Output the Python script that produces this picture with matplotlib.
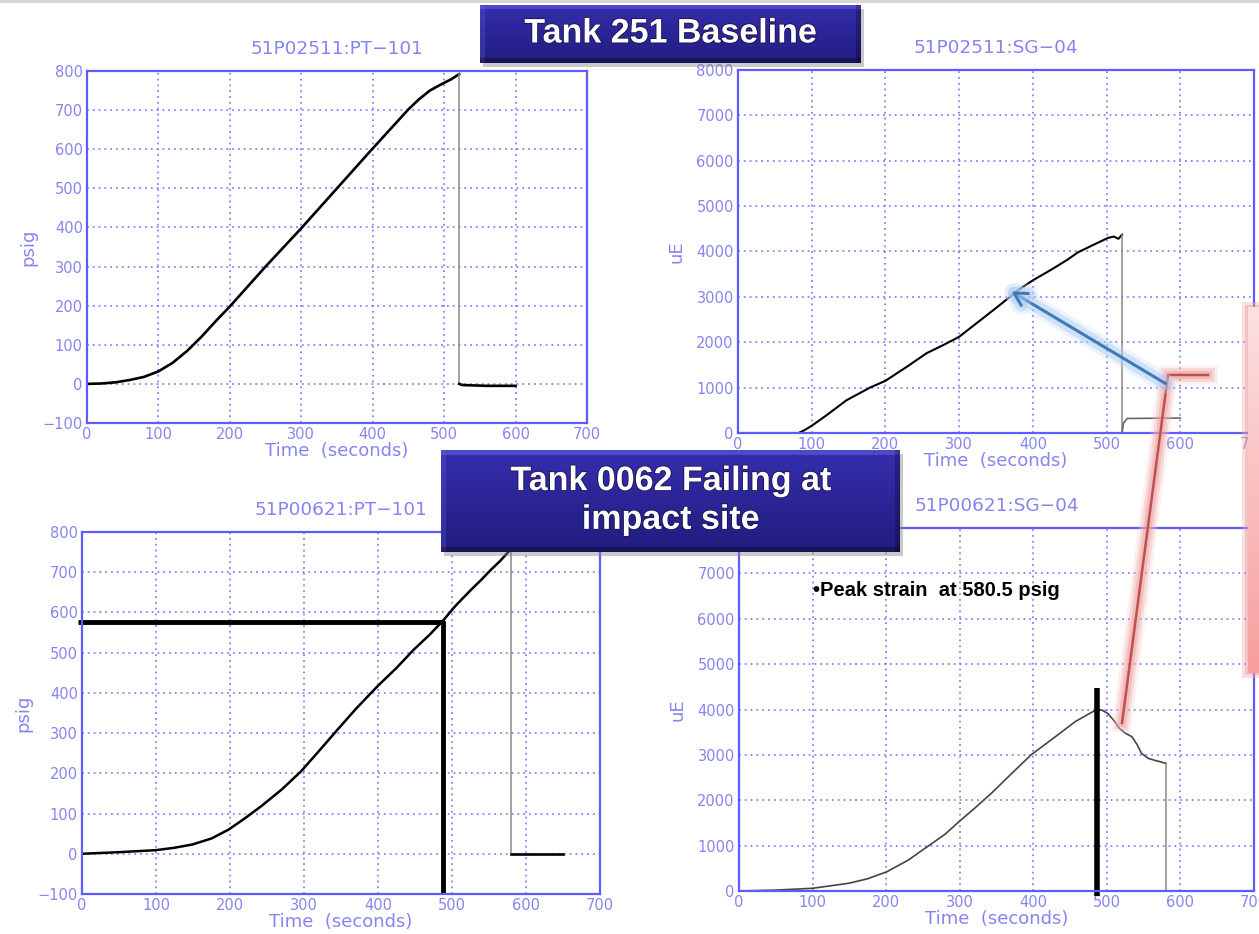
import matplotlib.pyplot as plt
import matplotlib.patheffects as pe
from matplotlib.lines import Line2D
from matplotlib.patches import Rectangle, FancyArrowPatch
import numpy as np

# ---- data ----
# Tank 251 baseline, pressure (psig) vs time (s)
base_pt_t = [0, 20, 40, 60, 80, 100, 120, 140, 160, 180, 200, 225, 250, 275, 300, 325,
             350, 375, 400, 425, 450, 465, 480, 495, 510, 521]
base_pt_p = [0, 1, 4, 10, 18, 32, 54, 84, 120, 160, 198, 249, 300, 349, 398, 449,
             500, 551, 602, 652, 702, 728, 750, 765, 779, 792]
base_pt_end_t = [521, 526, 560, 600]
base_pt_end_p = [0, -3, -5, -5]

# Tank 251 baseline, strain (uE)
base_sg_t = [0, 82, 90, 101, 120, 147, 179, 200, 230, 256, 280, 300, 330, 359, 380,
             401, 425, 447, 461, 480, 502, 510, 516, 521]
base_sg_u = [0, 0, 60, 170, 390, 720, 1000, 1150, 1470, 1760, 1950, 2120, 2500, 2870, 3150,
             3375, 3600, 3820, 3980, 4130, 4300, 4330, 4280, 4370]
base_sg_end_t = [521, 523, 528, 600]
base_sg_end_u = [0, 220, 320, 330]

# Tank 0062 failing, pressure
fail_pt_t = [0, 50, 100, 125, 149, 175, 198, 220, 242, 270, 296, 320, 345, 370, 399,
             425, 448, 470, 488, 505, 525, 540, 552, 565, 576, 580]
fail_pt_p = [0, 4, 9, 15, 23, 38, 60, 88, 118, 160, 205, 255, 308, 360, 416,
             462, 507, 545, 580, 617, 655, 682, 705, 728, 750, 760]
fail_pt_end_t = [580, 585, 650]
fail_pt_end_p = [0, 0, 0]

# Tank 0062 failing, strain
fail_sg_t = [0, 50, 100, 149, 175, 201, 230, 256, 280, 299, 320, 343, 370, 397, 430, 457,
             485, 493, 501, 510, 517, 525, 534, 541, 547, 556, 565, 572, 580]
fail_sg_u = [0, 20, 60, 170, 270, 425, 680, 977, 1250, 1528, 1820, 2153, 2580, 3000, 3400,
             3733, 3990, 3990, 3916, 3750, 3586, 3480, 3400, 3230, 3035, 2925, 2880, 2851, 2814]

peak_time = 488
peak_psig = 577
peak_strain_top = 4470

W, H = 1259, 934
fig = plt.figure(figsize=(W / 100, H / 100), dpi=100)
fig.patch.set_facecolor('white')

spine_c = '#5c5cff'
txt_c = '#8585f2'
grid_c = '#6f6fff'


def fx(x):
    return x / W


def fy(y):
    return 1 - y / H


def panel(l, t, r, b, title, ylabel, ymin, ymax, ystep, ylabelpad):
    ax = fig.add_axes([l / W, 1 - b / H, (r - l) / W, (b - t) / H])
    ax.set_xlim(0, 700)
    ax.set_ylim(ymin, ymax)
    ax.set_xticks(range(0, 701, 100))
    ax.set_yticks(range(ymin, ymax + 1, ystep))
    ax.grid(True, linestyle=(0, (1.2, 2.6)), color=grid_c, lw=1.1)
    for s in ax.spines.values():
        s.set_color(spine_c)
        s.set_linewidth(1.6)
    ax.tick_params(length=0, pad=3, labelsize=10.5, labelcolor=txt_c)
    ax.set_title(title, color=txt_c, fontsize=13.3, pad=12)
    ax.set_xlabel('Time  (seconds)', color=txt_c, fontsize=13, labelpad=0)
    ax.set_ylabel(ylabel, color=txt_c, fontsize=13, labelpad=ylabelpad)
    return ax


ax1 = panel(87, 71, 587, 423, '51P02511:PT\u2212101', 'psig', -100, 800, 100, 4)
ax1.plot(base_pt_t, base_pt_p, color='black', lw=1.9)
ax1.plot([base_pt_t[-1]] * 2, [base_pt_p[-1], 0], color='#888888', lw=1.1)
ax1.plot(base_pt_end_t, base_pt_end_p, color='black', lw=1.9)

ax2 = panel(738, 70, 1254, 433, '51P02511:SG\u221204', 'uE', 0, 8000, 1000, 8)
ax2.plot(base_sg_t, base_sg_u, color='black', lw=1.5)
ax2.plot([base_sg_t[-1]] * 2, [base_sg_u[-1], 0], color='#888888', lw=1.1)
ax2.plot(base_sg_end_t, base_sg_end_u, color='#666666', lw=1.2)

ax3 = panel(82, 532, 600, 894, '51P00621:PT\u2212101', 'psig', -100, 800, 100, 4)
ax3.plot(fail_pt_t, fail_pt_p, color='black', lw=1.8)
ax3.plot([fail_pt_t[-1]] * 2, [fail_pt_p[-1], 0], color='#888888', lw=1.1)
ax3.plot(fail_pt_end_t, fail_pt_end_p, color='black', lw=1.9)
ax3.plot([-6, peak_time, peak_time], [peak_psig, peak_psig, -100],
         color='black', lw=3.5, clip_on=False, solid_capstyle='butt')

ax4 = panel(739, 528, 1254, 891, '51P00621:SG\u221204', 'uE', 0, 8000, 1000, 8)
# the 8000 label sits under the banner in the original
ax4.set_yticklabels([str(v) if v < 8000 else '' for v in range(0, 8001, 1000)])
ax4.plot(fail_sg_t, fail_sg_u, color='#444444', lw=1.2)
ax4.plot([fail_sg_t[-1]] * 2, [fail_sg_u[-1], 0], color='#888888', lw=1.1)
ax4.plot([peak_time - 2] * 2, [-100, peak_strain_top], color='black', lw=4,
         clip_on=False, solid_capstyle='butt')
ax4.text(100, 6630, '\u2022Peak strain  at 580.5 psig', fontsize=14.5, fontweight='bold',
         family=['Liberation Sans', 'DejaVu Sans'], va='center', ha='left')

# thin grey frame at the slide top
fig.add_artist(Rectangle((0, fy(3)), 1, 3 / H, transform=fig.transFigure,
                         color='#d6d6d6', lw=0))


def banner(x0, y0, x1, y1, lines):
    # drop shadow
    fig.add_artist(Rectangle((fx(x0 + 3), fy(y1 + 4)), (x1 - x0) / W, (y1 - y0) / H,
                             transform=fig.transFigure, color='#888888', alpha=0.45,
                             lw=0, zorder=9))
    bx = fig.add_axes([fx(x0), fy(y1), (x1 - x0) / W, (y1 - y0) / H])
    bx.set_zorder(10)
    h, w = int(y1 - y0), int(x1 - x0)
    top = np.array([0.21, 0.18, 0.68])
    bot = np.array([0.13, 0.11, 0.50])
    frac = np.linspace(0, 1, h)[:, None, None]
    img = top * (1 - frac) + bot * frac
    img = np.repeat(img, w, axis=1)
    img[:5, :, :] = img[:5, :, :] * 0.6 + np.array([0.45, 0.45, 0.95]) * 0.4
    img[:, :5, :] = img[:, :5, :] * 0.75 + np.array([0.40, 0.40, 0.90]) * 0.25
    img[-5:, :, :] *= 0.7
    img[:, -5:, :] *= 0.75
    bx.imshow(np.clip(img, 0, 1), aspect='auto', extent=[0, 1, 0, 1])
    bx.set_axis_off()
    n = len(lines)
    for i, line in enumerate(lines):
        yc = 0.5 + (n - 1) * 0.19 - i * 0.38
        bx.text(0.5, yc, line, color='white', fontsize=24.5, fontweight='bold',
                family='Liberation Sans', ha='center', va='center',
                path_effects=[pe.withStroke(linewidth=1.2, foreground='#1a1450')])


banner(480, 5, 861, 63, ['Tank 251 Baseline'])
banner(441, 450, 900, 552, ['Tank 0062 Failing at', 'impact site'])

# pink callout box, cut off by the right edge
fig.add_artist(Rectangle((fx(1242), fy(678)), 20 / W, 376 / H, transform=fig.transFigure,
                         color='#f0a8a8', alpha=0.35, lw=0, zorder=4))
fig.add_artist(Rectangle((fx(1245), fy(675)), 20 / W, 370 / H, transform=fig.transFigure,
                         color='#e88c8c', alpha=0.35, lw=0, zorder=4))
px = fig.add_axes([fx(1248), fy(673), 15 / W, (673 - 307) / H])
px.set_zorder(5)
g = np.linspace(0, 1, 200)[:, None, None]
pink = np.array([0.99, 0.88, 0.88]) * (1 - g) + np.array([0.97, 0.62, 0.62]) * g
pink = np.repeat(pink, 10, axis=1)
px.imshow(np.clip(pink, 0, 1), aspect='auto', extent=[0, 1, 0, 1])
px.set_axis_off()

# red connector with soft glow
red = Line2D([fx(1122), fx(1168), fx(1208)], [fy(723), fy(375), fy(375)],
             transform=fig.transFigure, color='#c0504d', lw=1.8, zorder=6,
             solid_joinstyle='miter',
             path_effects=[pe.Stroke(linewidth=14, foreground='#f6c4c4', alpha=0.25),
                           pe.Stroke(linewidth=10, foreground='#f2aaaa', alpha=0.35),
                           pe.Stroke(linewidth=6, foreground='#eb9595', alpha=0.4),
                           pe.Normal()])
fig.add_artist(red)

# blue arrow with glow
arr = FancyArrowPatch((fx(1168), fy(385)), (fx(1009), fy(290)), transform=fig.transFigure,
                      arrowstyle='->,head_length=9,head_width=5', color='#3f78bd', lw=2.2,
                      zorder=7, mutation_scale=1,
                      path_effects=[pe.Stroke(linewidth=14, foreground='#c4dbf5', alpha=0.3),
                                    pe.Stroke(linewidth=9, foreground='#a3c5ee', alpha=0.4),
                                    pe.Normal()])
fig.add_artist(arr)

fig.savefig('out.png', dpi=100, facecolor='white')
